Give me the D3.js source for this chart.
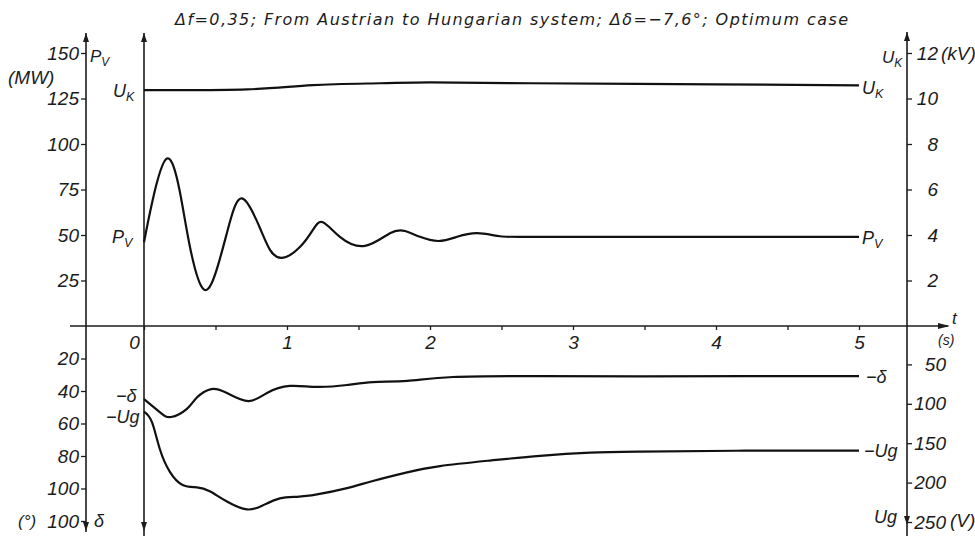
<!DOCTYPE html>
<meta charset="utf-8">
<head>
  <title>Power swing, Austrian to Hungarian system</title>
  <script src="https://d3js.org/d3.v7.min.js"></script>
  <style>
    body { margin: 0; background: #fff; }
    text { font-family: "Liberation Sans", Arial, sans-serif; font-style: italic; fill: #1c1c1c; }
    .tick text { font-size: 19px; }
    .tick line { stroke: #1c1c1c; stroke-width: 1.3; }
    .curve { fill: none; stroke: #111; stroke-width: 2.2; }
    .ax { stroke: #1c1c1c; stroke-width: 1.6; }
  </style>
</head>
<body>
<svg width="975" height="536"></svg>
<script>
// ---- data ----
var titleText = "\u0394f=0,35;  From Austrian to Hungarian system;  \u0394\u03b4=\u22127,6\u00b0;  Optimum case";

// P_V (MW) vs time (s)
var tP = [0, 0.06, 0.16, 0.25, 0.32, 0.42, 0.52, 0.60, 0.69, 0.81, 0.88, 0.965, 1.09, 1.18, 1.25, 1.37, 1.545, 1.72, 1.825, 1.93, 2.06, 2.19, 2.33, 2.49, 2.75, 3.5, 4.25, 5.0];
var pV = [46, 69, 92, 74, 44, 20, 34, 57, 70, 54, 42, 37.4, 43.4, 52.7, 57, 49, 44, 51, 52.2, 49, 46.7, 49, 51, 49.3, 49, 49, 49, 49];

// U_K (kV)
var tK = [0, 0.72, 1.18, 1.65, 2.0, 2.7, 4.0, 5.0];
var uK = [10.37, 10.40, 10.59, 10.67, 10.71, 10.67, 10.62, 10.58];

// -delta (degrees)
var tD = [0, 0.11, 0.19, 0.30, 0.37, 0.47, 0.58, 0.73, 0.86, 1.02, 1.21, 1.42, 1.60, 1.84, 2.16, 2.77, 3.47, 4.2, 5.0];
var delta = [45, 53, 56, 51, 44, 38.8, 41.2, 46.2, 41.2, 36.9, 37.5, 36.3, 34.5, 33.8, 31.4, 30.8, 31.0, 30.8, 30.8];

// -Ug (V)
var tU = [0, 0.055, 0.11, 0.18, 0.27, 0.37, 0.46, 0.58, 0.72, 0.83, 0.95, 1.07, 1.21, 1.42, 1.60, 1.84, 2.07, 2.42, 2.77, 3.12, 3.47, 4.2, 5.0];
var ug = [110, 123, 157, 186, 203, 206, 211, 224, 234, 229, 220, 218, 215, 207, 198, 187, 179, 172, 166, 162, 160.7, 159.5, 159.5];

// tick values and labels
var tTicks = [0, 0.5, 1, 1.5, 2, 2.5, 3, 3.5, 4, 4.5, 5];
var pTicks = [25, 50, 75, 100, 125, 150];
var dTicks = [20, 40, 60, 80, 100, 120];
var dLabels = ["20", "40", "60", "80", "100", "100"];
var kTicks = [2, 4, 6, 8, 10, 12];
var vTicks = [50, 100, 150, 200, 250];

// ---- drawing ----
var svg = d3.select("svg");

var x = d3.scaleLinear().domain([0, 5]).range([144, 859]);
var yP = d3.scaleLinear().domain([0, 150]).range([326, 53]);
var yK = d3.scaleLinear().domain([0, 12]).range([326, 53]);
var yD = d3.scaleLinear().domain([0, 120]).range([326, 521]);
var yU = d3.scaleLinear().domain([0, 250]).range([325, 522]);

// title
svg.append("text")
  .attr("x", 175).attr("y", 25)
  .attr("textLength", 673).attr("lengthAdjust", "spacing")
  .style("font-family", "'DejaVu Sans', sans-serif")
  .style("font-size", "16px")
  .text(titleText);

// axes with ticks
function cleanAxis(g) { g.select(".domain").remove(); g.selectAll("text").attr("fill", "#1c1c1c"); }

svg.append("g").attr("transform", "translate(86,0)")
  .call(d3.axisLeft(yP).tickValues(pTicks).tickSize(5).tickPadding(2)).call(cleanAxis);

svg.append("g").attr("transform", "translate(86,0)")
  .call(d3.axisLeft(yD).tickValues(dTicks).tickSize(5).tickPadding(2)
    .tickFormat(function(d, i) { return dLabels[i]; })).call(cleanAxis);

svg.append("g").attr("transform", "translate(907,0)")
  .call(d3.axisRight(yK).tickValues(kTicks).tickSize(5)).call(cleanAxis)
  .selectAll("text").attr("text-anchor", "end").attr("x", 31);

svg.append("g").attr("transform", "translate(907,0)")
  .call(d3.axisRight(yU).tickValues(vTicks).tickSize(5)).call(cleanAxis)
  .selectAll("text").attr("text-anchor", "end").attr("x", 39);

var xa = svg.append("g").attr("transform", "translate(0,326)")
  .call(d3.axisBottom(x).tickValues(tTicks).tickSize(4).tickPadding(5.5)
    .tickFormat(function(d) { return d % 1 === 0 ? d : ""; })).call(cleanAxis);
xa.selectAll(".tick").filter(function(d) { return d === 0; })
  .select("text").attr("x", -10);

// axis lines with arrow heads
function vline(xp, y1, y2) {
  svg.append("line").attr("class", "ax").attr("x1", xp).attr("x2", xp).attr("y1", y1).attr("y2", y2);
}
function arrow(xp, yp, dir) {
  var pts;
  if (dir === "up") pts = [[xp, yp], [xp - 3, yp + 9], [xp + 3, yp + 9]];
  else if (dir === "down") pts = [[xp, yp], [xp - 3, yp - 9], [xp + 3, yp - 9]];
  else pts = [[xp, yp], [xp - 12, yp - 3], [xp - 12, yp + 3]];
  svg.append("path").attr("d", "M" + pts.join("L") + "Z").attr("fill", "#1c1c1c");
}
vline(86, 33, 532); arrow(86, 33, "up"); arrow(86, 531, "down");
vline(144, 33, 536); arrow(144, 33, "up"); arrow(144, 531, "down");
vline(907, 32, 536); arrow(907, 32, "up"); arrow(907, 525, "down");
svg.append("line").attr("class", "ax").attr("x1", 70).attr("x2", 948).attr("y1", 326).attr("y2", 326);
arrow(950, 326, "right");

// curves
function curve(ts, vs, sy) {
  var pts = ts.map(function(t, i) { return [x(t), sy(vs[i])]; });
  svg.append("path").attr("class", "curve")
    .attr("d", d3.line().curve(d3.curveNatural)(pts));
}
curve(tK, uK, yK);
curve(tP, pV, yP);
curve(tD, delta, yD);
curve(tU, ug, yU);

// labels with subscripts
function label(xp, yp, main, sub, size) {
  size = size || 18;
  var t = svg.append("text").attr("x", xp).attr("y", yp).style("font-size", size + "px");
  t.append("tspan").text(main);
  if (sub) t.append("tspan").attr("dy", 4).style("font-size", (size * 0.7) + "px").text(sub);
}
// left of the curves
label(113, 97, "U", "K");
label(112, 243, "P", "V");
label(116, 402, "\u2212\u03b4", null);
label(106, 423, "\u2212Ug", null);
// right of the curves
label(862, 94, "U", "K");
label(862, 244, "P", "V");
label(866, 383, "\u2212\u03b4", null);
label(864, 457, "\u2212Ug", null);

// axis names and units
label(90, 62, "P", "V", 17);
label(8, 84, "(MW)", null, 19);
label(882, 63, "U", "K", 17);
label(941, 60, "(kV)", null, 19);
label(18, 527, "(\u00b0)", null, 17);
label(94, 527, "\u03b4", null, 18);
label(874, 523, "Ug", null, 18);
label(950, 527, "(V)", null, 19);
label(952, 324, "t", null, 17);
label(938, 345, "(s)", null, 14);
</script>
</body>
</html>
